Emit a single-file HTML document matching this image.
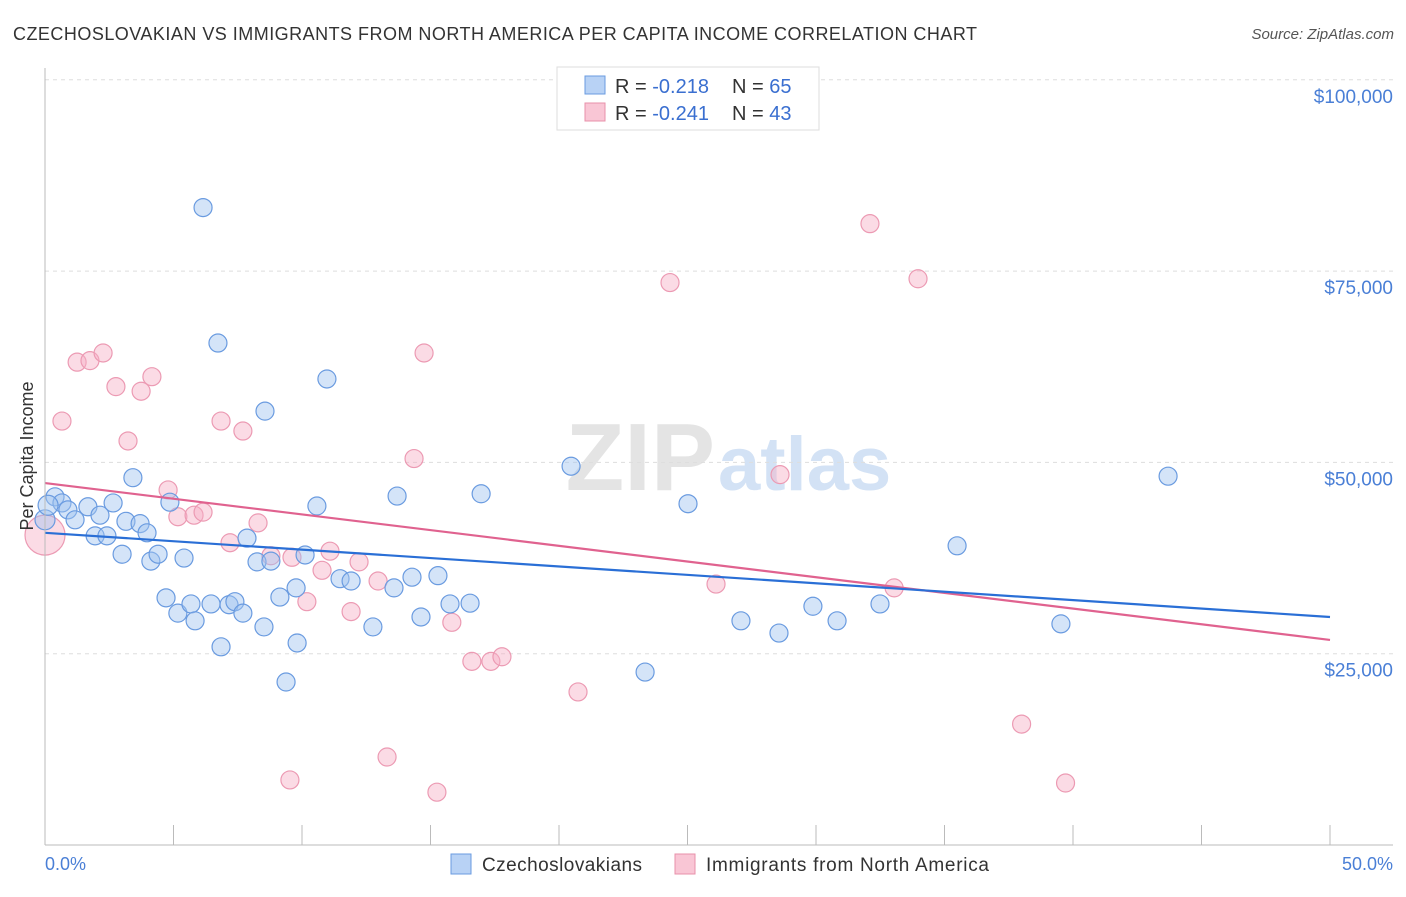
<!DOCTYPE html>
<html><head><meta charset="utf-8"><style>
body{margin:0;background:#fff;font-family:"Liberation Sans",sans-serif}
svg text{font-family:"Liberation Sans",sans-serif}
</style></head><body>
<svg id="chart" width="1406" height="892" xmlns="http://www.w3.org/2000/svg">
<text x="13" y="40" font-size="18" fill="#333" textLength="964">CZECHOSLOVAKIAN VS IMMIGRANTS FROM NORTH AMERICA PER CAPITA INCOME CORRELATION CHART</text>
<text x="1394" y="39" font-size="15" fill="#555" text-anchor="end" font-style="italic">Source: ZipAtlas.com</text>
<text x="715" y="490" font-size="96" fill="#e4e4e4" text-anchor="end" font-family="Liberation Serif" font-weight="bold">ZIP</text>
<text x="718" y="490" font-size="76" fill="#d3e2f5" font-weight="bold">atlas</text>
<g id="grid"></g><g id="pts"></g><g id="lines"></g>
<line x1="45" y1="68" x2="45" y2="845" stroke="#bbb"/>
<line x1="45" y1="845" x2="1393" y2="845" stroke="#bbb"/>
<text x="33" y="456" font-size="18" fill="#333" text-anchor="middle" transform="rotate(-90 33 456)">Per Capita Income</text>
<text x="45" y="870" font-size="18" fill="#4a7fd6">0.0%</text>
<text x="1393" y="870" font-size="18" fill="#4a7fd6" text-anchor="end">50.0%</text>
<g>
<rect x="557" y="67" width="262" height="63" fill="#fff" stroke="#ddd"/>
<rect x="585" y="76" width="20" height="18" fill="#b8d2f5" stroke="#6a9be0"/>
<rect x="585" y="103" width="20" height="18" fill="#f9c6d5" stroke="#e890aa"/>
<text x="615" y="93" font-size="20" fill="#333">R = <tspan fill="#3a6fd0">-0.218</tspan></text>
<text x="732" y="93" font-size="20" fill="#333">N = <tspan fill="#3a6fd0">65</tspan></text>
<text x="615" y="120" font-size="20" fill="#333">R = <tspan fill="#3a6fd0">-0.241</tspan></text>
<text x="732" y="120" font-size="20" fill="#333">N = <tspan fill="#3a6fd0">43</tspan></text>
</g>
<g>
<rect x="451" y="854" width="20" height="20" fill="#b8d2f5" stroke="#6a9be0"/>
<text x="482" y="871" font-size="19" fill="#333" textLength="160">Czechoslovakians</text>
<rect x="675" y="854" width="20" height="20" fill="#f9c6d5" stroke="#e890aa"/>
<text x="706" y="871" font-size="19" fill="#333" textLength="283">Immigrants from North America</text>
</g>
</svg>
<script>
const yTicks=[25000,50000,75000,100000];
const yTickLabels=["$25,000","$50,000","$75,000","$100,000"];
const xTicks=[0,5,10,15,20,25,30,35,40,45,50];
const blueX=[0.39,0.66,0.89,1.17,1.67,1.95,2.14,2.41,2.65,3.0,3.15,3.42,3.70,3.97,4.12,4.40,4.71,4.86,5.17,5.41,5.68,5.84,6.15,6.46,6.73,6.85,7.16,7.39,7.70,7.86,8.25,8.52,8.56,8.79,9.14,9.38,9.77,9.81,10.12,10.58,10.97,11.48,11.91,12.76,13.58,13.70,14.28,14.63,15.29,15.76,16.54,16.97,20.47,23.35,25.02,27.08,28.56,29.88,30.82,32.49,35.49,39.53,43.70,0,0.12];
const blueY=[45.5,44.7,43.8,42.5,44.2,40.4,43.1,40.4,44.7,38.0,42.3,48.0,42.0,40.8,37.1,38.0,32.3,44.8,30.3,37.5,31.5,29.3,83.3,31.5,65.6,25.9,31.4,31.8,30.3,40.1,37.0,28.5,56.7,37.1,32.4,21.3,33.6,26.4,37.9,44.3,60.9,34.8,34.5,28.5,33.6,45.6,35.0,29.8,35.2,31.5,31.6,45.9,49.5,22.6,44.6,29.3,27.7,31.2,29.3,31.5,39.1,28.9,48.2,42.5,44.4];
const pinkX=[0,0.66,1.25,1.75,2.26,2.76,3.23,3.74,4.16,4.79,5.17,5.80,6.15,6.85,7.20,7.70,8.29,8.79,9.53,9.61,10.19,10.78,11.09,11.91,12.22,12.96,14.36,14.75,15.25,15.83,16.61,17.35,17.78,13.31,20.74,24.32,26.11,28.60,32.10,33.04,33.97,38.00,39.71];
const pinkY=[40.5,55.4,63.1,63.3,64.3,59.9,52.8,59.3,61.2,46.4,42.9,43.1,43.5,55.4,39.5,54.1,42.1,37.8,8.5,37.6,31.8,35.9,38.4,30.5,37.0,34.5,50.5,64.3,6.9,29.1,24.0,24.0,24.6,11.5,20.0,73.5,34.1,48.4,81.2,33.6,74.0,15.8,8.1];
const blueTrend=[40.8,29.8];
const pinkTrend=[47.3,26.8];
const sx=v=>45+v/50*1285;
const sy=v=>845-v/25000*191.3;
const NS="http://www.w3.org/2000/svg";
const grid=document.getElementById('grid');
yTicks.forEach((t,i)=>{
 const l=document.createElementNS(NS,'line');
 
 
 l.setAttribute('x1',45);l.setAttribute('x2',1393);l.setAttribute('y1',sy(t));l.setAttribute('y2',sy(t));
 l.setAttribute('stroke','#ddd');l.setAttribute('stroke-dasharray','4,4');grid.appendChild(l);
 const tx=document.createElementNS(NS,'text');
 
 
 tx.setAttribute('x',1393);tx.setAttribute('y',sy(t)+23);tx.setAttribute('text-anchor','end');
 tx.setAttribute('font-size','19');tx.setAttribute('fill','#4a7fd6');tx.textContent=yTickLabels[i];grid.appendChild(tx);
});
xTicks.forEach(t=>{
 const l=document.createElementNS(NS,'line');
 
 
 l.setAttribute('x1',sx(t));l.setAttribute('x2',sx(t));l.setAttribute('y1',825);l.setAttribute('y2',845);
 l.setAttribute('stroke','#bbb');grid.appendChild(l);
});
const pts=document.getElementById('pts');
function dot(x,y,r,fill,stroke,name){
 const c=document.createElementNS(NS,'circle');
 
 
 c.setAttribute('cx',sx(x));c.setAttribute('cy',sy(y*1000));c.setAttribute('r',r);
 c.setAttribute('fill',fill);c.setAttribute('stroke',stroke);c.setAttribute('stroke-width','1.2');
 pts.appendChild(c);
}
pinkX.forEach((x,i)=>dot(x,pinkY[i],i===0?20:9,'rgba(247,175,198,0.45)','#ec9ab3','pink-point'));
blueX.forEach((x,i)=>dot(x,blueY[i],i>=63?10:9,'rgba(160,195,240,0.45)','#6a9be0','blue-point'));
const lines=document.getElementById('lines');
function trend(t,color,name){
 const l=document.createElementNS(NS,'line');
 
 
 l.setAttribute('x1',sx(0));l.setAttribute('x2',sx(50));l.setAttribute('y1',sy(t[0]*1000));l.setAttribute('y2',sy(t[1]*1000));
 l.setAttribute('stroke',color);l.setAttribute('stroke-width','2.2');lines.appendChild(l);
}
trend(pinkTrend,'#e0628f','pink-trend-line');
trend(blueTrend,'#2a6fd6','blue-trend-line');
</script>
</body></html>
